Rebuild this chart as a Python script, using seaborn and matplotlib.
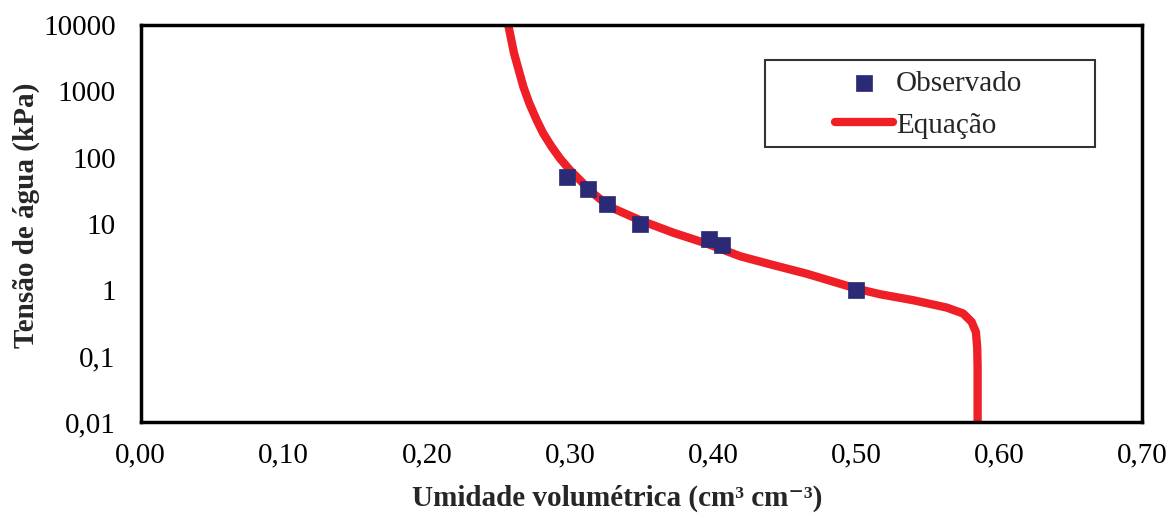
import numpy as np
import pandas as pd
import matplotlib
matplotlib.use("Agg")
import matplotlib.pyplot as plt
from matplotlib.patches import Rectangle
import seaborn as sns

# Observed data
obs_theta = [0.298, 0.3125, 0.326, 0.349, 0.397, 0.4066, 0.500]
obs_h = [50, 33, 19.5, 10, 5.8, 4.8, 1.0]

# Fitted equation curve
eq_theta = [0.2570, 0.2610, 0.2675, 0.2717, 0.2768, 0.2814, 0.2873, 0.2931,
            0.3001, 0.3164, 0.3281, 0.3490, 0.3723, 0.3957, 0.4190, 0.4420,
            0.4656, 0.5005, 0.5168, 0.5401, 0.5634, 0.5750, 0.5809, 0.5839,
            0.5848, 0.5851, 0.5851]
eq_h = [10000, 3770, 1178, 659, 369, 232, 145.5, 97,
        64.6, 28.6, 17.9, 11.3, 7.3, 5.0, 3.22, 2.37,
        1.75, 1.04, 0.857, 0.695, 0.539, 0.438, 0.327, 0.230,
        0.136, 0.068, 0.01]

xticks = [0.0, 0.1, 0.2, 0.3, 0.4, 0.5, 0.6, 0.7]
xticklabels = ["0,00", "0,10", "0,20", "0,30", "0,40", "0,50", "0,60", "0,70"]
yticks = [0.01, 0.1, 1, 10, 100, 1000, 10000]
yticklabels = ["0,01", "0,1", "1", "10", "100", "1000", "10000"]

sns.set_style("white")
plt.rcParams["font.family"] = ["Liberation Serif", "DejaVu Serif"]

fig = plt.figure(figsize=(11.68, 5.21), dpi=100)
ax = fig.add_axes([0.1205, 0.190, 0.8572, 0.7614])

eq_df = pd.DataFrame({"theta": eq_theta, "h": eq_h})
obs_df = pd.DataFrame({"theta": obs_theta, "h": obs_h})

sns.lineplot(data=eq_df, x="theta", y="h", ax=ax, sort=False, estimator=None,
             color="#EE1F26", linewidth=6, solid_capstyle="butt",
             solid_joinstyle="round", label="Equação", zorder=2)
sns.scatterplot(data=obs_df, x="theta", y="h", ax=ax, marker="s", s=118,
                color="#2B2A77", edgecolor="#2B2A77", linewidth=0.5,
                label="Observado", zorder=3)

ax.set_yscale("log")
ax.set_xlim(0, 0.70)
ax.set_ylim(0.01, 10000)
ax.set_xticks(xticks)
ax.set_xticklabels(xticklabels)
ax.set_yticks(yticks)
ax.set_yticklabels(yticklabels)
ax.minorticks_off()
ax.tick_params(axis="x", direction="inout", length=9, width=1, labelsize=21,
               pad=10, colors="black")
ax.tick_params(axis="y", direction="out", length=7, width=1, labelsize=21,
               pad=11, colors="black")
for sp in ax.spines.values():
    sp.set_linewidth(2.5)
    sp.set_color("black")

ax.set_xlabel("Umidade volumétrica (cm³ cm⁻³)", fontsize=21, fontweight="bold")
ax.xaxis.set_label_coords(0.476, -0.157)
ax.set_ylabel("Tensão de água (kPa)", fontsize=21, fontweight="bold")
ax.yaxis.set_label_coords(-0.101, 0.52)

# Legend
handles, labels = ax.get_legend_handles_labels()
order = [labels.index("Observado"), labels.index("Equação")]
leg = ax.legend([handles[i] for i in order], [labels[i] for i in order],
                loc="center", bbox_to_anchor=(0.787, 0.80), frameon=False,
                fontsize=21, handlelength=2.0, handletextpad=0.1,
                labelspacing=0.52, markerscale=1.0)
for lh in leg.get_lines():
    lh.set_solid_capstyle("round")
ax.add_patch(Rectangle((0.6235, 0.694), 0.3295, 0.219, transform=ax.transAxes,
                       fill=False, edgecolor="#333333", linewidth=1.5,
                       zorder=4, clip_on=False))

fig.savefig("out.png", dpi=100)
